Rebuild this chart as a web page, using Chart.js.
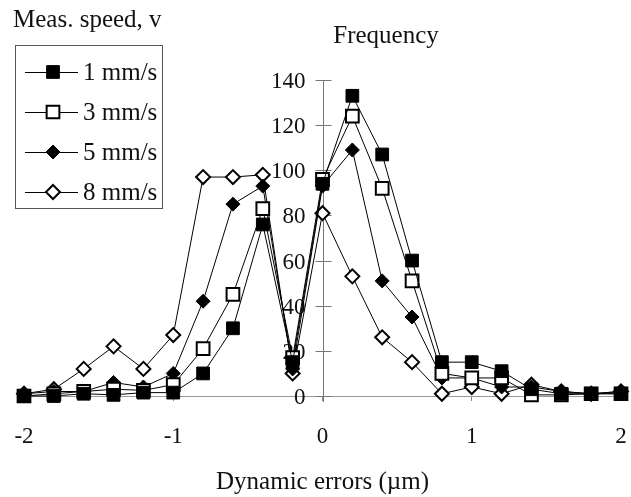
<!DOCTYPE html>
<html>
<head>
<meta charset="utf-8">
<script src="https://cdn.jsdelivr.net/npm/chart.js@4.4.1/dist/chart.umd.min.js"></script>
<style>
  html, body { margin: 0; padding: 0; background: #fff; }
  #wrap { width: 631px; height: 497px; }
</style>
</head>
<body>
<div id="wrap"><canvas id="freq-chart" width="631" height="497"></canvas></div>
<script>
// Errores dinámicos (µm) y frecuencia por velocidad de medida
const errors = [-2, -1.8, -1.6, -1.4, -1.2, -1, -0.8, -0.6, -0.4, -0.2, 0, 0.2, 0.4, 0.6, 0.8, 1, 1.2, 1.4, 1.6, 1.8, 2];
const speed1 = [0, 0, 1, 0.5, 1.5, 1.5, 10, 30, 76, 15, 94, 133, 107, 60, 15, 15, 11, 3, 1, 1, 1];
const speed3 = [0, 1, 2, 3, 2.5, 5, 21, 45, 83, 17, 96, 124, 92, 51, 10, 8, 8, 0.5, 0.5, 1, 1];
const speed5 = [1, 2, 2, 6, 4, 10, 42, 85, 93, 12, 93, 109, 51, 35, 8, 8, 4, 4, 2, 1, 2];
const speed8 = [1, 3, 12, 22, 12, 27, 97, 97, 98, 10, 81, 53, 26, 15, 1, 4, 1, 5, 2, 1, 2];

const seriesLabels = ['1 mm/s', '3 mm/s', '5 mm/s', '8 mm/s'];
const yTicks = [0, 20, 40, 60, 80, 100, 120, 140];
const xTicks = [-2, -1, 0, 1, 2];

const SERIF = "'Liberation Serif', 'Times New Roman', serif";

// Estilo de marcador de cada serie
const markers = [
    { pointStyle: 'rect', radius: 9, fill: '#000', border: 1 },
    { pointStyle: 'rect', radius: 9, fill: '#fff', border: 2 },
    { pointStyle: 'rectRot', radius: 7, fill: '#000', border: 1 },
    { pointStyle: 'rectRot', radius: 7, fill: '#fff', border: 2 }
];

function toPoints(values) {
    return errors.map((e, i) => ({ x: e, y: values[i] }));
}

const allSeries = [speed1, speed3, speed5, speed8];

const datasets = allSeries.map((values, i) => ({
    label: seriesLabels[i],
    data: toPoints(values),
    borderColor: '#000',
    borderWidth: 1,
    pointStyle: markers[i].pointStyle,
    pointRadius: markers[i].radius,
    pointBackgroundColor: markers[i].fill,
    pointBorderColor: '#000',
    pointBorderWidth: markers[i].border,
    showLine: true,
    tension: 0,
    clip: false
}));

/**
 * Eje Y centrado en x = 0: línea, marcas cruzadas y etiquetas
 */
const centerAxisPlugin = {
    id: 'centerAxis',
    beforeDatasetsDraw(chart) {
        const { ctx, scales: { x, y } } = chart;
        const x0 = Math.round(x.getPixelForValue(0)) + 0.5;
        ctx.save();
        ctx.strokeStyle = '#777';
        ctx.lineWidth = 1;
        ctx.beginPath();
        ctx.moveTo(x0, y.getPixelForValue(140));
        ctx.lineTo(x0, y.getPixelForValue(0) + 6);
        ctx.stroke();

        ctx.fillStyle = '#111';
        ctx.font = '23px ' + SERIF;
        ctx.textAlign = 'right';
        ctx.textBaseline = 'middle';
        yTicks.forEach(v => {
            const py = Math.round(y.getPixelForValue(v)) + 0.5;
            ctx.beginPath();
            ctx.moveTo(x0 - 8, py);
            ctx.lineTo(x0 + 8, py);
            ctx.stroke();
            ctx.fillText(String(v), x0 - 18, py + 1);
        });
        ctx.restore();
    }
};

/**
 * Dibuja leyenda y títulos
 */
const extrasPlugin = {
    id: 'extras',
    afterDraw(chart) {
        const { ctx } = chart;
        ctx.save();
        ctx.fillStyle = '#111';
        ctx.font = '25px ' + SERIF;
        ctx.textBaseline = 'alphabetic';
        ctx.textAlign = 'left';
        ctx.fillText('Meas. speed, v', 13, 27);
        ctx.textAlign = 'center';
        ctx.fillText('Frequency', 386, 43);

        // leyenda
        ctx.strokeStyle = '#555';
        ctx.lineWidth = 1;
        ctx.strokeRect(15.5, 45.5, 147, 163);
        ctx.textAlign = 'left';
        seriesLabels.forEach((label, i) => {
            const ly = 72 + i * 40;
            ctx.strokeStyle = '#000';
            ctx.lineWidth = 1;
            ctx.beginPath();
            ctx.moveTo(25, ly + 0.5);
            ctx.lineTo(78, ly + 0.5);
            ctx.stroke();
            ctx.fillStyle = markers[i].fill;
            ctx.lineWidth = markers[i].border;
            Chart.helpers.drawPoint(ctx, {
                pointStyle: markers[i].pointStyle,
                radius: markers[i].radius,
                rotation: 0,
                borderWidth: markers[i].border
            }, 53, ly);
            ctx.fillStyle = '#111';
            ctx.fillText(label, 83, ly + 8);
        });
        ctx.restore();
    }
};

const ctx = document.getElementById('freq-chart').getContext('2d');
const freqChart = new Chart(ctx, {
    type: 'scatter',
    data: { datasets: datasets },
    options: {
        responsive: false,
        animation: false,
        layout: { autoPadding: false, padding: { top: 80, left: 24, right: 10, bottom: 0 } },
        plugins: {
            legend: { display: false },
            tooltip: { enabled: false }
        },
        scales: {
            x: {
                type: 'linear',
                min: -2,
                max: 2,
                afterBuildTicks: axis => { axis.ticks = xTicks.map(v => ({ value: v })); },
                afterFit: axis => {
                    // área del gráfico fija: de x=24 a x=621, eje en y=396
                    axis.paddingLeft = 0;
                    axis.paddingRight = 0;
                    axis.height = 101;
                },
                grid: { display: true, drawOnChartArea: false, tickLength: 5, color: '#888' },
                border: { display: true, color: '#999', width: 1 },
                ticks: {
                    padding: 22,
                    color: '#111',
                    font: { family: SERIF, size: 23 }
                },
                title: {
                    display: true,
                    text: 'Dynamic errors (\u00b5m)',
                    color: '#111',
                    font: { family: SERIF, size: 25 },
                    padding: { top: 4, bottom: 0 }
                }
            },
            y: {
                type: 'linear',
                display: false,
                min: 0,
                max: 140
            }
        }
    },
    plugins: [centerAxisPlugin, extrasPlugin]
});
</script>
</body>
</html>
